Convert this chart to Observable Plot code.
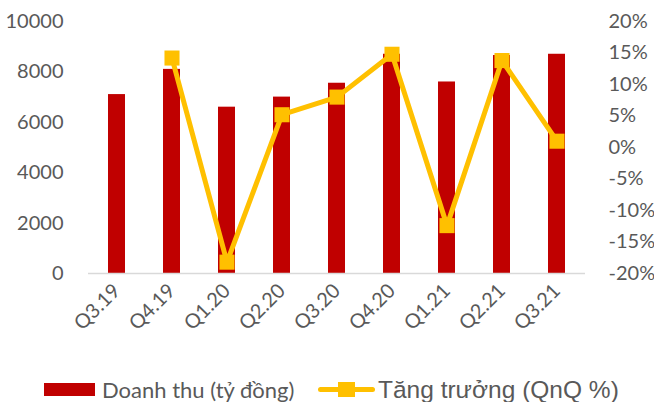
<!DOCTYPE html>
<html><head><meta charset="utf-8">
<script src="https://cdn.jsdelivr.net/npm/d3@7"></script>
<script src="https://cdn.jsdelivr.net/npm/@observablehq/plot@0.6"></script>
<style>
body{margin:0;background:#fff;font-family:Lato,"Open Sans",sans-serif;overflow:hidden;}
#legend{position:relative;height:37px;width:654px;color:#595959;}
#legend .it{position:absolute;top:6px;height:37px;display:flex;align-items:center;white-space:nowrap;}
</style></head><body>
<div id="chart"></div>
<div id="legend">
  <div class="it" style="left:44px;font-family:Lato,sans-serif;font-size:22px"><span style="display:inline-block;width:51px;height:13px;background:#C00000;margin-right:7px"></span>Doanh thu (tỷ đồng)</div>
  <div class="it" style="left:318px;font-family:'Liberation Sans',Arial,sans-serif;font-size:24.5px"><span style="position:relative;display:inline-block;width:57px;height:15px;margin-right:3px"><span style="position:absolute;left:0;top:5px;width:57px;height:5px;background:#FFC000;border-radius:3px"></span><span style="position:absolute;left:20px;top:0;width:17px;height:15px;background:#FFC000"></span></span>Tăng trưởng (QnQ %)</div>
</div>
<script>
const quarters = ["Q3.19","Q4.19","Q1.20","Q2.20","Q3.20","Q4.20","Q1.21","Q2.21","Q3.21"];
const revenue = [7100, 8100, 6600, 7000, 7550, 8700, 7600, 8650, 8700];
const growth = [null, 14.2, -18.2, 5.2, 8.0, 14.8, -12.4, 13.8, 1.0];
const leftTicks = [0, 2000, 4000, 6000, 8000, 10000];
const rightTicks = [-20, -15, -10, -5, 0, 5, 10, 15, 20];

const yMax = 10000, gMin = -20, gMax = 20;
const toY = g => (g - gMin) / (gMax - gMin) * yMax;

const rows = quarters.map((q, i) => ({q, rev: revenue[i], g: growth[i]}));
const lineRows = rows.filter(d => d.g != null);

const plot = Plot.plot({
  width: 654, height: 365,
  marginLeft: 88, marginRight: 69, marginTop: 21, marginBottom: 92,
  style: {fontFamily: "Lato, 'Open Sans', sans-serif", fontSize: "20px", color: "#595959", background: "#fff"},
  x: {domain: quarters, paddingInner: 0.69, paddingOuter: 0.345, align: 0.5, label: null},
  y: {domain: [0, yMax], label: null},
  marks: [
    Plot.barY(rows, {x: "q", y: "rev", fill: "#C00000"}),
    Plot.ruleY([0], {stroke: "#d9d9d9", strokeWidth: 1.5}),
    Plot.lineY(lineRows, {x: "q", y: d => toY(d.g), stroke: "#FFC000", strokeWidth: 5}),
    Plot.dot(lineRows, {x: "q", y: d => toY(d.g), symbol: "square", r: 8.5, fill: "#FFC000"}),
    Plot.axisY({anchor: "left", ticks: leftTicks, tickSize: 0, tickPadding: 25, tickFormat: d => String(d), fill: "#595959", label: null}),
    Plot.axisY({anchor: "right", ticks: rightTicks.map(toY), tickSize: 0, tickPadding: 23, tickFormat: v => Math.round(v / yMax * (gMax - gMin) + gMin) + "%", fill: "#595959", label: null}),
    Plot.axisX({tickRotate: -45, tickSize: 0, tickPadding: 14, fill: "#595959", label: null})
  ]
});
document.getElementById("chart").appendChild(plot);
</script>
</body></html>
